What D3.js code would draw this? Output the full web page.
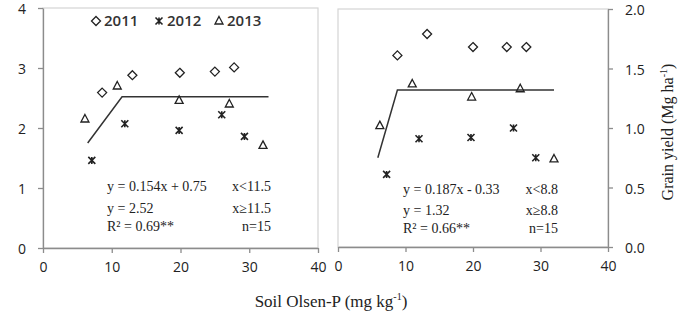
<!DOCTYPE html>
<html>
<head>
<meta charset="utf-8">
<script src="https://cdn.jsdelivr.net/npm/d3@7"></script>
<style>
  body { margin: 0; background: #fff; }
  .tick text { font-family: "Open Sans", sans-serif; font-size: 14px; fill: #222; }
  .note { font-family: "Liberation Serif", serif; font-size: 14px; fill: #222; }
</style>
</head>
<body>
<script>
// data: x = soil Olsen-P, y = grain yield
const years = ['2011', '2012', '2013'];

// left panel
const left2011x = [8.6, 13.0, 19.9, 25.0, 27.8];
const left2011y = [2.59, 2.88, 2.92, 2.94, 3.01];
const left2012x = [7.1, 11.9, 19.8, 26.0, 29.3];
const left2012y = [1.46, 2.07, 1.96, 2.22, 1.86];
const left2013x = [6.1, 10.8, 19.8, 27.1, 32.0];
const left2013y = [2.15, 2.70, 2.46, 2.40, 1.71];
const leftFitX = [6.5, 11.5, 32.8];
const leftFitY = [1.75, 2.52, 2.52];

// right panel
const right2011x = [8.8, 13.2, 20.0, 25.0, 27.9];
const right2011y = [1.61, 1.79, 1.68, 1.68, 1.68];
const right2012x = [7.2, 12.0, 19.7, 26.0, 29.3];
const right2012y = [0.61, 0.91, 0.92, 1.00, 0.75];
const right2013x = [6.2, 11.0, 19.8, 27.0, 32.0];
const right2013y = [1.02, 1.37, 1.26, 1.33, 0.74];
const rightFitX = [5.9, 8.8, 32.0];
const rightFitY = [0.75, 1.32, 1.32];

const xTicks = [0, 10, 20, 30, 40];
const leftYTicks = [0, 1, 2, 3, 4];
const rightYTicks = [0, 0.5, 1.0, 1.5, 2.0];

const leftNotes = [['y = 0.154x + 0.75', 'x<11.5'], ['y = 2.52', 'x\u226511.5'], ['R\u00b2 = 0.69**', 'n=15']];
const rightNotes = [['y = 0.187x - 0.33', 'x<8.8'], ['y = 1.32', 'x\u22658.8'], ['R\u00b2 = 0.66**', 'n=15']];

const svg = d3.select('body').append('svg')
              .attr('width', 678)
              .attr('height', 311);

const ink = '#222';

function diamond(g, x, y) {
  g.append('path').attr('d', `M${x},${y-4.5}L${x+4.5},${y}L${x},${y+4.5}L${x-4.5},${y}Z`)
   .style('fill', 'none').style('stroke', ink).style('stroke-width', 1.3);
}
function star(g, x, y) {
  const r = 3.5;
  g.append('path').attr('d', `M${x-r},${y-r}L${x+r},${y+r}M${x+r},${y-r}L${x-r},${y+r}M${x},${y-r}L${x},${y+r}`)
   .style('fill', 'none').style('stroke', ink).style('stroke-width', 1.6);
}
function triangle(g, x, y) {
  g.append('path').attr('d', `M${x},${y-4.5}L${x+4},${y+3}L${x-4},${y+3}Z`)
   .style('fill', 'none').style('stroke', ink).style('stroke-width', 1.3);
}
const markers = [diamond, star, triangle];

function panel(o) {
  const x = d3.scaleLinear().domain([0, 40]).range([o.x0, o.x1]);
  const y = d3.scaleLinear().domain(o.yDomain).range([o.y0, o.y1]);
  const g = svg.append('g');

  // light frame
  g.append('rect')
   .attr('x', o.x0).attr('y', o.y1).attr('width', o.x1 - o.x0).attr('height', o.y0 - o.y1)
   .style('fill', 'none').style('stroke', '#d4d4d4').style('stroke-width', 1.2);

  g.append('g').attr('transform', `translate(0,${o.y0})`)
   .call(d3.axisBottom(x).tickValues(xTicks).tickSize(5).tickSizeOuter(0).tickPadding(9));
  g.append('g')
   .attr('transform', `translate(${o.right ? o.x1 : o.x0},0)`)
   .call((o.right ? d3.axisRight(y) : d3.axisLeft(y))
     .tickValues(o.yTicks).tickSize(5).tickSizeOuter(0).tickPadding(12)
     .tickFormat(o.right ? d3.format('.1f') : d3.format('d')))
   .selectAll('text').attr('dy', '0.42em');
  g.selectAll('.domain, .tick line').style('stroke', '#8c8c8c').style('stroke-width', 1.3);

  // fit line
  const line = d3.line().x(d => x(d[0])).y(d => y(d[1]));
  g.append('path').datum(d3.zip(o.fitX, o.fitY)).attr('d', line)
   .style('fill', 'none').style('stroke', '#333').style('stroke-width', 1.5);

  // points
  o.series.forEach((s, i) => {
    d3.zip(s[0], s[1]).forEach(p => markers[i](g, x(p[0]), y(p[1])));
  });

  // equations
  o.notes.forEach((n, i) => {
    g.append('text').attr('class', 'note').attr('x', o.noteX).attr('y', o.noteY[i]).text(n[0]);
    g.append('text').attr('class', 'note').attr('x', o.noteR).attr('y', o.noteY[i])
     .attr('text-anchor', 'end').text(n[1]);
  });
}

panel({
  x0: 43, x1: 318, y0: 248, y1: 8, yDomain: [0, 4], yTicks: leftYTicks, right: false,
  fitX: leftFitX, fitY: leftFitY,
  series: [[left2011x, left2011y], [left2012x, left2012y], [left2013x, left2013y]],
  notes: leftNotes, noteX: 107, noteR: 271, noteY: [191, 213, 231]
});
panel({
  x0: 338, x1: 608, y0: 247, y1: 9, yDomain: [0, 2], yTicks: rightYTicks, right: true,
  fitX: rightFitX, fitY: rightFitY,
  series: [[right2011x, right2011y], [right2012x, right2012y], [right2013x, right2013y]],
  notes: rightNotes, noteX: 403, noteR: 558, noteY: [194, 215, 233]
});

// legend
const legX = [96, 159, 219];
const legend = svg.append('g');
years.forEach((yr, i) => {
  markers[i](legend, legX[i], 21);
  legend.append('text').attr('x', legX[i] + 8).attr('y', 26)
        .style('font-family', '"Open Sans", sans-serif').style('font-size', '15px').style('font-weight', 600)
        .style('fill', '#333').text(yr);
});

// axis titles
const xt = svg.append('text').attr('x', 331).attr('y', 307).attr('text-anchor', 'middle')
              .attr('class', 'note').style('font-size', '17px');
xt.append('tspan').text('Soil Olsen-P (mg kg');
xt.append('tspan').attr('dy', -7).style('font-size', '10px').text('-1');
xt.append('tspan').attr('dy', 7).text(')');

const yt = svg.append('text').attr('transform', 'translate(673,132) rotate(-90)')
              .attr('text-anchor', 'middle').attr('class', 'note').style('font-size', '16px');
yt.append('tspan').text('Grain yield (Mg ha');
yt.append('tspan').attr('dy', -6).style('font-size', '10px').text('-1');
yt.append('tspan').attr('dy', 6).text(')');
</script>
</body>
</html>
